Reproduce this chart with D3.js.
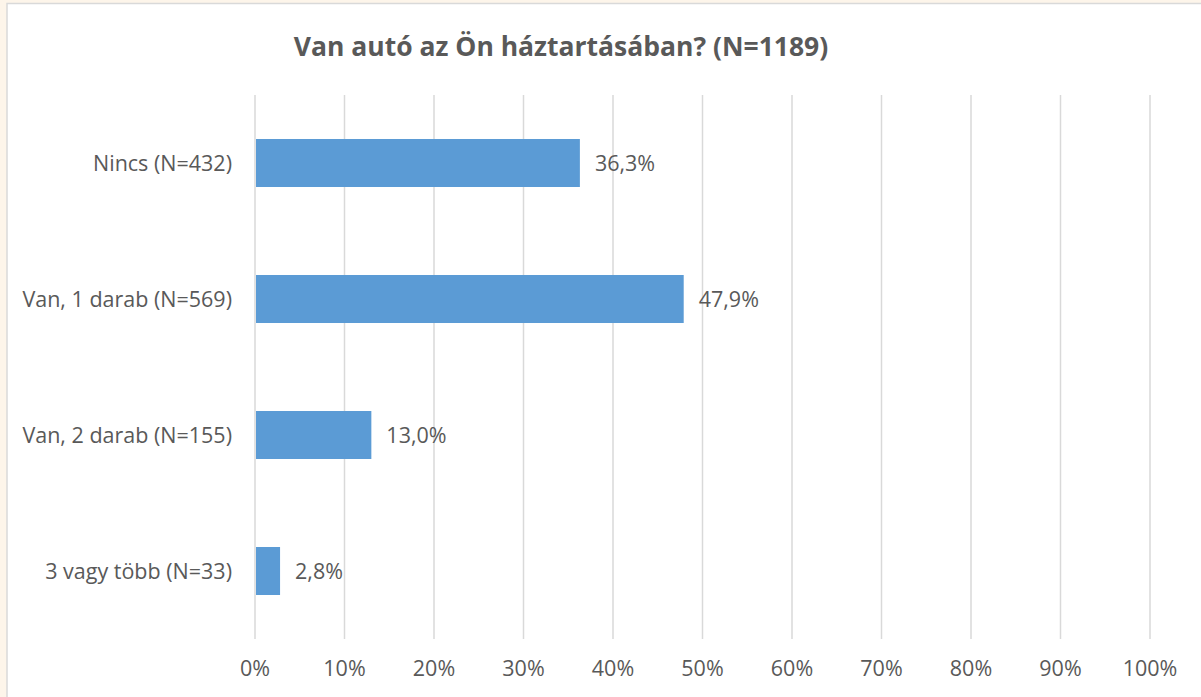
<!DOCTYPE html>
<html>
<head>
<meta charset="utf-8">
<script src="https://cdn.jsdelivr.net/npm/d3@7.9.0/dist/d3.min.js"></script>
<style>
  html, body { margin: 0; padding: 0; background: #fdf5ea; }
  svg { display: block; font-family: "Open Sans", Lato, sans-serif; }
</style>
</head>
<body>
<svg id="chart" width="1201" height="697"></svg>
<script>
// data
const categories = ['Nincs (N=432)', 'Van, 1 darab (N=569)', 'Van, 2 darab (N=155)', '3 vagy több (N=33)'];
const values = [36.3, 47.9, 13.0, 2.8];
const ticks = [0, 10, 20, 30, 40, 50, 60, 70, 80, 90, 100];
const title = 'Van autó az Ön háztartásában? (N=1189)';

const svg = d3.select('#chart');
const textColor = '#595959';
const fs = 21.5;

// white chart area with thin border
svg.append('rect')
  .attr('x', 7).attr('y', 3.5)
  .attr('width', 1201).attr('height', 700)
  .attr('fill', '#fff')
  .attr('stroke', '#d9d9d9')
  .attr('stroke-width', 1.5);

const x = d3.scaleLinear().domain([0, 100]).range([255, 1150]);
const y = d3.scaleBand().domain(categories).range([95, 639]).paddingInner(0.647).paddingOuter(0.3235);

// gridlines
svg.append('g')
  .selectAll('line')
  .data(ticks)
  .join('line')
  .attr('x1', d => x(d)).attr('x2', d => x(d))
  .attr('y1', 95).attr('y2', 639)
  .attr('stroke', '#d9d9d9')
  .attr('stroke-width', 1.5);

// tick labels
svg.append('g')
  .selectAll('text')
  .data(ticks)
  .join('text')
  .attr('x', d => x(d))
  .attr('y', 676)
  .attr('text-anchor', 'middle')
  .attr('fill', textColor)
  .attr('font-size', fs)
  .text(d => d + '%');

// bars
svg.append('g')
  .selectAll('rect')
  .data(values)
  .join('rect')
  .attr('x', x(0) + 1)
  .attr('y', (d, i) => y(categories[i]))
  .attr('width', d => x(d) - x(0) - 1)
  .attr('height', y.bandwidth())
  .attr('fill', '#5b9bd5');

// value labels
svg.append('g')
  .selectAll('text')
  .data(values)
  .join('text')
  .attr('x', d => x(d) + 15)
  .attr('y', (d, i) => y(categories[i]) + y.bandwidth() / 2)
  .attr('dy', '0.35em')
  .attr('fill', textColor)
  .attr('font-size', fs)
  .text(d => d.toFixed(1).replace('.', ',') + '%');

// category labels
svg.append('g')
  .selectAll('text')
  .data(categories)
  .join('text')
  .attr('x', 232)
  .attr('y', d => y(d) + y.bandwidth() / 2)
  .attr('dy', '0.35em')
  .attr('text-anchor', 'end')
  .attr('fill', textColor)
  .attr('font-size', fs)
  .text(d => d);

// title
svg.append('text')
  .attr('x', 561)
  .attr('y', 56)
  .attr('text-anchor', 'middle')
  .attr('fill', textColor)
  .attr('font-size', 26.5)
  .attr('font-weight', 'bold')
  .text(title);
</script>
</body>
</html>
